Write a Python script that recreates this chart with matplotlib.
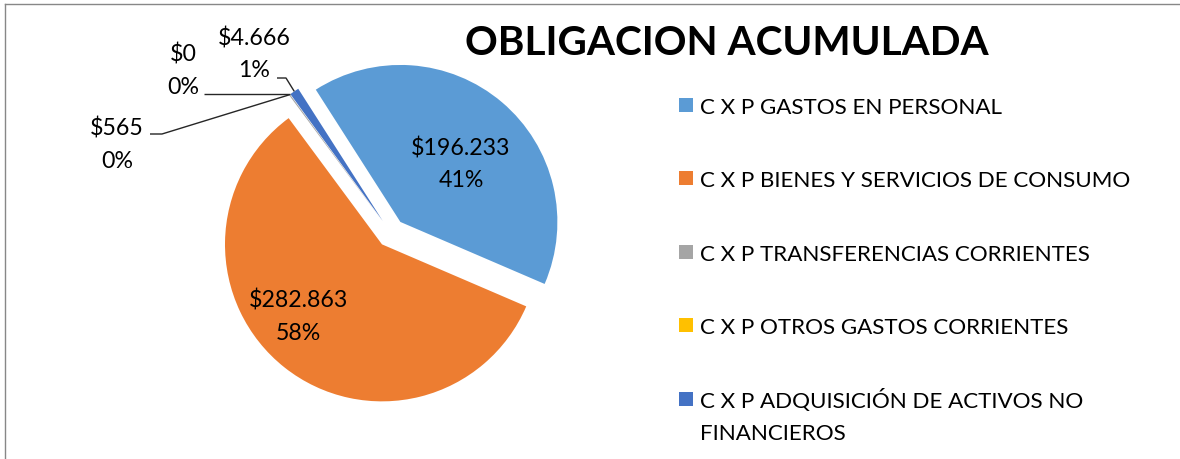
import matplotlib
matplotlib.use("Agg")
import matplotlib.pyplot as plt
from matplotlib.patches import Rectangle
from matplotlib.lines import Line2D
import numpy as np

# ---------------- data ----------------
categories = [
    "C X P GASTOS EN PERSONAL",
    "C X P BIENES Y SERVICIOS DE CONSUMO",
    "C X P TRANSFERENCIAS CORRIENTES",
    "C X P OTROS GASTOS CORRIENTES",
    "C X P ADQUISICIÓN DE ACTIVOS NO\nFINANCIEROS",
]
values = [196233, 282863, 565, 0, 4666]
value_labels = ["$196.233", "$282.863", "$565", "$0", "$4.666"]
pct_labels = ["41%", "58%", "0%", "0%", "1%"]
colors = ["#5B9BD5", "#ED7D31", "#A5A5A5", "#FFC000", "#4472C4"]
title = "OBLIGACION ACUMULADA"

# ---------------- layout (pixels, y measured from top) ----------------
W, H = 1180, 460
plt.rcParams['font.family'] = ['Lato', 'DejaVu Sans']

fig = plt.figure(figsize=(W / 100, H / 100), dpi=100)
ax = fig.add_axes([0, 0, 1, 1])

def Y(y):
    return H - y

pie_center = (391, Y(234))
pie_radius = 157
explode_px = 14.5

wedges, _ = ax.pie(values, colors=colors, startangle=122.6, counterclock=False,
                   radius=pie_radius, center=pie_center,
                   explode=[explode_px] * len(values),
                   wedgeprops=dict(linewidth=0))
ax.set_xlim(0, W)
ax.set_ylim(0, H)
ax.set_aspect('equal')
ax.axis('off')

# data labels: (x centre, baseline of first line) in pixels
label_pos = [(461, 155), (298, 308), (117, 136), (183, 62), (254, 45)]
line_step = 32
label_fs = 16.7
for i, (x, yb) in enumerate(label_pos):
    ax.text(x, Y(yb), value_labels[i], ha='center', va='baseline',
            fontsize=label_fs, color='black')
    ax.text(x, Y(yb + line_step), pct_labels[i], ha='center', va='baseline',
            fontsize=label_fs, color='black')

# leader lines for the small slices: start point and optional elbow
# (None as y means: horizontal, at the height of the slice anchor)
leaders = {2: [(150, 135), (162, 135)],
           3: [(204, None)],
           4: [(277, 79), (286, 79)]}
for i, pts in leaders.items():
    w = wedges[i]
    cx, cy = w.center
    tm = np.radians((w.theta1 + w.theta2) / 2)
    ex, ey = cx + w.r * np.cos(tm), cy + w.r * np.sin(tm)
    xs = [p[0] for p in pts] + [ex]
    ys = [ey if p[1] is None else Y(p[1]) for p in pts] + [ey]
    ax.plot(xs, ys, color='#262626', lw=1.0, solid_capstyle='butt')

# title
ax.text(727, Y(55), title, ha='center', va='baseline', fontsize=29.2,
        fontweight='bold', color='black')

# legend
row0, row_step = 106, 73.4
leg_fs = 16.1
for i, (cat, col) in enumerate(zip(categories, colors)):
    yc = row0 + i * row_step
    ax.add_patch(Rectangle((679, Y(yc + 7)), 14, 14, facecolor=col,
                           edgecolor='none'))
    for j, line in enumerate(cat.split("\n")):
        ax.text(700, Y(yc + 8 + j * 32), line, ha='left', va='baseline',
                fontsize=leg_fs, color='black')

# chart border (only left and top edges visible)
fig.add_artist(Line2D([4.5 / W, 4.5 / W], [0, 1 - 4.5 / H],
                      transform=fig.transFigure, color='#878787', lw=1.0))
fig.add_artist(Line2D([4.5 / W, 1], [1 - 4.5 / H, 1 - 4.5 / H],
                      transform=fig.transFigure, color='#878787', lw=1.0))

fig.savefig("out.png", dpi=100)
